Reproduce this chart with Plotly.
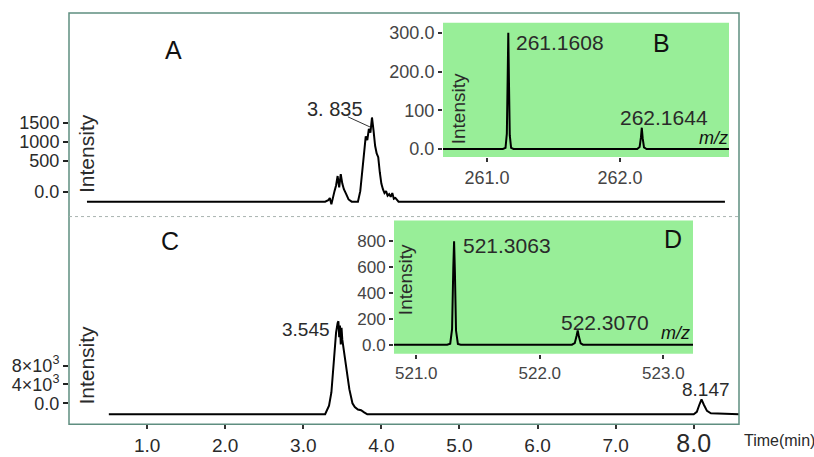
import plotly.graph_objects as go

# ---------------- data ----------------
# Chromatogram A (time in min, intensity)
TIME_A = [0.23, 3.28, 3.32, 3.34, 3.36, 3.38, 3.40, 3.42, 3.44, 3.46, 3.48, 3.50, 3.52, 3.55,
          3.58, 3.62, 3.70, 3.73, 3.76, 3.78, 3.80, 3.82, 3.84, 3.86, 3.88, 3.90, 3.92, 3.94,
          3.96, 3.98, 4.00, 4.02, 4.04, 4.06, 4.08, 4.10, 4.12, 4.14, 4.16, 4.18, 4.22, 8.40]
INT_A = [-579, -579, -540, -480, -650, -420, -300, -150, 100, -200, 150, -100, -250, -380,
         -520, -579, -579, -300, 300, 800, 1150, 1050, 1350, 1250, 1650, 1300, 900, 700,
         600, 200, -100, -250, -350, -300, -420, -380, -450, -350, -500, -480, -579, -579]

# Chromatogram C
TIME_C = [0.51, 3.28, 3.33, 3.36, 3.39, 3.42, 3.44, 3.45, 3.46, 3.47, 3.48, 3.49, 3.50, 3.52,
          3.55, 3.59, 3.63, 3.66, 3.70, 3.74, 3.78, 3.82, 8.00, 8.04, 8.07, 8.10, 8.13, 8.17,
          8.22, 8.58]
INT_C = [-2316, -2316, -500, 2300, 8600, 15000, 17000, 17400, 14000, 16500, 12500, 16000, 13500,
         11000, 8000, 3000, 0, -800, -1300, -1450, -1900, -2316, -2316, -1800, -400, 842, -300,
         -1600, -2100, -2316]

# Mass spectrum B
MZ_B = [260.67, 261.12, 261.14, 261.150, 261.156, 261.1608, 261.166, 261.172, 261.182, 261.20,
        262.13, 262.148, 262.158, 262.1644, 262.171, 262.181, 262.20, 262.82]
INT_B = [0, 0, 3, 40, 180, 300, 170, 35, 3, 0, 0, 5, 30, 55, 28, 4, 0, 0]

# Mass spectrum D
MZ_D = [520.82, 521.25, 521.275, 521.290, 521.300, 521.3063, 521.313, 521.322, 521.337, 521.36,
        522.26, 522.283, 522.298, 522.3070, 522.316, 522.331, 522.35, 523.24]
INT_D = [0, 0, 8, 120, 600, 800, 560, 110, 6, 0, 0, 12, 70, 110, 65, 10, 0, 0]

# tick labels
TIME_TICKS = [1, 2, 3, 4, 5, 6, 7, 8]
TIME_TICKTEXT = ["1.0", "2.0", "3.0", "4.0", "5.0", "6.0", "7.0",
                 "<span style='font-size:25px'>8.0</span>"]
A_TICKVALS = [-316, 500, 1000, 1500]
A_TICKTEXT = ["0.0", "500", "1000", "1500"]
C_TICKVALS = [0, 4000, 8000]
C_TICKTEXT = ["0.0", "4×10<sup>3</sup>", "8×10<sup>3</sup>"]
B_XTICKS = [261.0, 262.0]
B_XTEXT = ["261.0", "262.0"]
B_YTICKS = [0, 100, 200, 300]
B_YTEXT = ["0.0", "100", "200.0", "300.0"]
D_XTICKS = [521.0, 522.0, 523.0]
D_XTEXT = ["521.0", "522.0", "523.0"]
D_YTICKS = [0, 200, 400, 600, 800]
D_YTEXT = ["0.0", "200", "400", "600", "800"]

# ---------------- layout helpers ----------------
W, H = 814, 457
def px(x):
    return x / W
def py(y):
    return 1 - y / H

FONT = "Liberation Sans, Arial, sans-serif"
GREEN = "#98ee98"
FRAME = "#5f8e80"
LINE = dict(color="black", width=2)
TXT = "#2a2a2a"

fig = go.Figure()
fig.add_trace(go.Scatter(x=TIME_C, y=INT_C, mode="lines", line=LINE, xaxis="x", yaxis="y",
                         showlegend=False, hoverinfo="skip"))
fig.add_trace(go.Scatter(x=TIME_A, y=INT_A, mode="lines", line=LINE, xaxis="x2", yaxis="y2",
                         showlegend=False, hoverinfo="skip"))
fig.add_trace(go.Scatter(x=MZ_B, y=INT_B, mode="lines", line=LINE, xaxis="x3", yaxis="y3",
                         showlegend=False, hoverinfo="skip"))
fig.add_trace(go.Scatter(x=MZ_D, y=INT_D, mode="lines", line=LINE, xaxis="x4", yaxis="y4",
                         showlegend=False, hoverinfo="skip"))

common = dict(showgrid=False, zeroline=False, showline=False, ticks="outside")
main_dom_x = [px(69), px(739)]

fig.update_layout(
    width=W, height=H, autosize=False,
    margin=dict(l=0, r=0, t=0, b=0),
    paper_bgcolor="white", plot_bgcolor="rgba(0,0,0,0)",
    font=dict(family=FONT, color=TXT),
    xaxis=dict(domain=main_dom_x, anchor="y", range=[0, 8.58], tickvals=TIME_TICKS,
               ticktext=TIME_TICKTEXT, ticklen=4, tickwidth=2, tickcolor="#333",
               tickfont=dict(size=19, color=TXT), **common),
    yaxis=dict(domain=[py(427), py(218)], anchor="x", range=[-4420, 39574],
               tickvals=C_TICKVALS, ticktext=C_TICKTEXT, ticklen=5, tickwidth=2,
               tickcolor="#222", tickfont=dict(size=18, color=TXT), **common),
    xaxis2=dict(domain=main_dom_x, anchor="y2", range=[0, 8.58], showticklabels=False,
                showgrid=False, zeroline=False, showline=False, ticks=""),
    yaxis2=dict(domain=[py(218), py(13)], anchor="x2", range=[-973, 4418],
                tickvals=A_TICKVALS, ticktext=A_TICKTEXT, ticklen=5, tickwidth=2,
                tickcolor="#222", tickfont=dict(size=18, color=TXT), **common),
    xaxis3=dict(domain=[px(443), px(729)], anchor="y3", range=[260.67, 262.82],
                tickvals=B_XTICKS, ticktext=B_XTEXT, ticklen=4, tickwidth=2, tickcolor="#333",
                tickfont=dict(size=18, color="#444"), **common),
    yaxis3=dict(domain=[py(158), py(23)], anchor="x3", range=[-20.5, 325.6],
                tickvals=B_YTICKS, ticktext=B_YTEXT, ticklen=4, tickwidth=2, tickcolor="#333",
                tickfont=dict(size=18, color="#444"), **common),
    xaxis4=dict(domain=[px(394), px(693)], anchor="y4", range=[520.82, 523.24],
                tickvals=D_XTICKS, ticktext=D_XTEXT, ticklen=4, tickwidth=2, tickcolor="#333",
                tickfont=dict(size=17, color="#444"), **common),
    yaxis4=dict(domain=[py(356), py(222)], anchor="x4", range=[-69, 961],
                tickvals=D_YTICKS, ticktext=D_YTEXT, ticklen=4, tickwidth=2, tickcolor="#333",
                tickfont=dict(size=17, color="#444"), **common),
)

shapes = [
    dict(type="rect", xref="x3 domain", yref="y3 domain", x0=0, x1=1, y0=0, y1=1,
         fillcolor=GREEN, line=dict(width=0), layer="below"),
    dict(type="rect", xref="x4 domain", yref="y4 domain", x0=0, x1=1, y0=0, y1=1,
         fillcolor=GREEN, line=dict(width=0), layer="below"),
    dict(type="rect", xref="paper", yref="paper", x0=px(69), x1=px(739), y0=py(427), y1=py(13),
         line=dict(color=FRAME, width=1.5), fillcolor="rgba(0,0,0,0)"),
    dict(type="line", xref="paper", yref="paper", x0=px(69), x1=px(739), y0=py(218), y1=py(218),
         line=dict(color="#a9b4b0", width=1, dash="dot")),
]
fig.update_layout(shapes=shapes)

def txt(x, y, s, size, color=TXT, angle=0, xanchor="center"):
    return dict(x=px(x), y=py(y), xref="paper", yref="paper", text=s, showarrow=False,
                font=dict(size=size, color=color, family=FONT), textangle=angle,
                xanchor=xanchor, yanchor="middle")

ann = [
    txt(173, 50, "A", 25, "#111"),
    txt(661, 43, "B", 25, "#111"),
    txt(170, 243, "C", 25, "#111"),
    txt(673, 241, "D", 25, "#111"),
    txt(560, 43, "261.1608", 21),
    txt(664, 118, "262.1644", 21),
    txt(713, 139, "<i>m/z</i>", 18, "#111"),
    txt(507, 247, "521.3063", 21),
    txt(605, 325, "522.3070", 21),
    txt(675, 335, "<i>m/z</i>", 18, "#111"),
    txt(306, 332, "3.545", 19),
    txt(706, 392, "8.147", 19),
    txt(779, 443, "Time(min)", 16),
    txt(87, 155, "Intensity", 21, angle=-90),
    txt(87, 368, "Intensity", 21, angle=-90),
    txt(458, 110, "Intensity", 19, angle=-90),
    txt(405, 282, "Intensity", 19, angle=-90),
    txt(335, 110, "3. 835", 20),
    dict(x=3.86, y=1394, xref="x2", yref="y2", text="", showarrow=True,
         arrowhead=0, arrowwidth=1, arrowcolor="#333", ax=-24, ay=-11),
]
fig.update_layout(annotations=ann)

fig.write_html("out.html", config={"displayModeBar": False},
               post_script="document.body.style.margin='0';document.body.style.overflow='hidden';")
